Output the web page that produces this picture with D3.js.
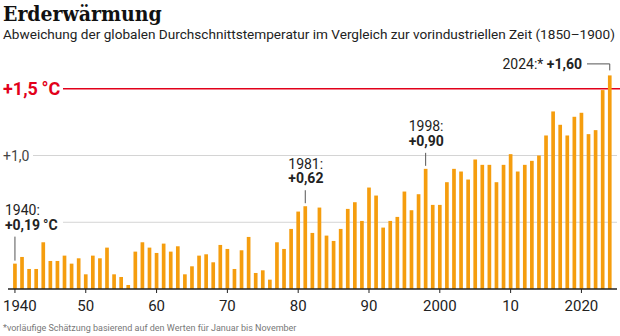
<!DOCTYPE html>
<html lang="de">
<head>
<meta charset="utf-8">
<title>Erderwärmung</title>
<script src="https://d3js.org/d3.v7.min.js"></script>
<style>
  body { margin: 0; background: #fff; }
  svg text { font-family: Roboto, "Liberation Sans", sans-serif; }
  .title { font-family: "DejaVu Serif Condensed", "DejaVu Serif", serif !important; font-weight: bold; font-size: 21px; fill: #111; }
  .subtitle { font-size: 13.6px; fill: #222; }
  .note { font-size: 9px; fill: #777; }
  .tick text { font-size: 15px; fill: #222; }
  .ann { font-size: 14px; fill: #222; }
  .ann .b { font-weight: bold; }
</style>
</head>
<body>
<script>
// Jahre und Abweichung gegenüber 1850–1900 in °C
var years = [1940,1941,1942,1943,1944,1945,1946,1947,1948,1949,
             1950,1951,1952,1953,1954,1955,1956,1957,1958,1959,
             1960,1961,1962,1963,1964,1965,1966,1967,1968,1969,
             1970,1971,1972,1973,1974,1975,1976,1977,1978,1979,
             1980,1981,1982,1983,1984,1985,1986,1987,1988,1989,
             1990,1991,1992,1993,1994,1995,1996,1997,1998,1999,
             2000,2001,2002,2003,2004,2005,2006,2007,2008,2009,
             2010,2011,2012,2013,2014,2015,2016,2017,2018,2019,
             2020,2021,2022,2023,2024];
var anomaly = [0.19,0.24,0.15,0.15,0.35,0.21,0.21,0.25,0.19,0.23,
               0.11,0.25,0.23,0.31,0.11,0.09,0.03,0.28,0.35,0.31,
               0.27,0.34,0.28,0.32,0.11,0.17,0.25,0.26,0.20,0.33,
               0.30,0.15,0.29,0.39,0.12,0.14,0.07,0.35,0.30,0.45,
               0.58,0.62,0.42,0.61,0.40,0.36,0.45,0.60,0.65,0.51,
               0.76,0.70,0.46,0.51,0.54,0.73,0.59,0.71,0.90,0.63,
               0.63,0.80,0.90,0.88,0.82,0.97,0.93,0.93,0.80,0.93,
               1.01,0.88,0.93,0.96,1.00,1.15,1.33,1.23,1.15,1.29,
               1.32,1.16,1.19,1.49,1.60];
var tickYears = [1940,1950,1960,1970,1980,1990,2000,2010,2020];
var gridValues = [0.5, 1.0];
var limit = 1.5;
var highlightYears = [1940, 1981, 1998];

var w = 620, h = 336;
var svg = d3.select("body").append("svg")
    .attr("width", w)
    .attr("height", h);

var data = years.map(function(y, i) { return {year: y, value: anomaly[i]}; });
var valueOf = function(y) { return anomaly[years.indexOf(y)]; };
var fmt = function(v) { return "+" + d3.format(".2f")(v).replace(".", ","); };

var x = d3.scaleBand()
    .domain(years)
    .range([9.7, 615])
    .padding(0.48);
var cx = function(y) { return x(y) + x.bandwidth() / 2; };

var yScale = d3.scaleLinear()
    .domain([0, 1])
    .range([289, 155.5]);

// Titel
svg.append("text").attr("class", "title")
    .attr("x", 3).attr("y", 21)
    .text("Erderwärmung");
svg.append("text").attr("class", "subtitle")
    .attr("x", 3).attr("y", 39)
    .text("Abweichung der globalen Durchschnittstemperatur im Vergleich zur vorindustriellen Zeit (1850–1900)");

// Gitterlinien
svg.selectAll(".grid")
  .data(gridValues)
  .join("line")
    .attr("class", "grid")
    .attr("x1", function(d) { return d === 1 ? 33 : 63; })
    .attr("x2", 617)
    .attr("y1", function(d) { return yScale(d); })
    .attr("y2", function(d) { return yScale(d); })
    .attr("stroke", "#d4d4d4")
    .attr("stroke-width", 1);

svg.append("text")
    .attr("x", 3).attr("y", yScale(1) + 5)
    .style("font-size", "14px").style("fill", "#444")
    .text("+1,0");

// 1,5-Grad-Grenze
svg.append("line")
    .attr("x1", 63).attr("x2", 620)
    .attr("y1", yScale(limit)).attr("y2", yScale(limit))
    .attr("stroke", "#e2001a")
    .attr("stroke-width", 1.5);
svg.append("text")
    .attr("x", 3).attr("y", yScale(limit) + 6)
    .style("font-size", "18px").style("font-weight", "bold").style("fill", "#e2001a")
    .text("+1,5\u2009°C");

// Balken
svg.selectAll(".bar")
  .data(data)
  .join("rect")
    .attr("class", "bar")
    .attr("x", function(d) { return x(d.year); })
    .attr("y", function(d) { return yScale(d.value); })
    .attr("width", x.bandwidth())
    .attr("height", function(d) { return yScale(0) - yScale(d.value); })
    .attr("fill", "#f59d0e");

// x-Achse
var xAxis = d3.axisBottom(x)
    .tickValues(tickYears)
    .tickSize(4)
    .tickPadding(7)
    .tickSizeOuter(0)
    .tickFormat(function(d) { return (d === 1940 || d === 2000 || d === 2020) ? d : String(d).slice(2); });
var gx = svg.append("g")
    .attr("transform", "translate(0," + yScale(0) + ")")
    .call(xAxis);
gx.select(".domain").remove();
gx.selectAll(".tick line").attr("stroke", "#222");
// erste Beschriftung bündig am linken Rand
gx.selectAll(".tick text")
    .filter(function(d) { return d === tickYears[0]; })
    .attr("text-anchor", "start")
    .attr("x", 3 - cx(tickYears[0]));
svg.append("line")
    .attr("x1", 8).attr("x2", 617)
    .attr("y1", yScale(0)).attr("y2", yScale(0))
    .attr("stroke", "#222").attr("stroke-width", 1.5);

// Beschriftungen einzelner Jahre
var annOffset = {1940: {dx: -10, gap: 27}, 1981: {dx: -17, gap: 16}, 1998: {dx: -17, gap: 16}};
highlightYears.forEach(function(yr) {
  var v = valueOf(yr), o = annOffset[yr];
  var top = yScale(v);
  var lineTop = top - o.gap;
  svg.append("line")
      .attr("x1", cx(yr)).attr("x2", cx(yr))
      .attr("y1", lineTop).attr("y2", top - 3)
      .attr("stroke", "#555").attr("stroke-width", 1);
  var t = svg.append("text").attr("class", "ann")
      .attr("x", cx(yr) + o.dx).attr("y", lineTop - 21.5);
  t.append("tspan").text(yr + ":");
  t.append("tspan").attr("class", "b")
      .attr("x", cx(yr) + o.dx).attr("dy", 14.5)
      .text(fmt(v) + (yr === 1940 ? "\u2009°C" : ""));
});

// 2024 (vorläufig)
var last = years[years.length - 1];
var lastTop = yScale(valueOf(last));
var t24 = svg.append("text").attr("class", "ann")
    .attr("x", 582).attr("y", lastTop - 6.5)
    .attr("text-anchor", "end");
t24.append("tspan").text(last + ":* ");
t24.append("tspan").attr("class", "b").text(fmt(valueOf(last)));
svg.append("path")
    .attr("d", "M587," + (lastTop - 11.5) + "H" + cx(last) + "V" + (lastTop - 5))
    .attr("fill", "none").attr("stroke", "#555").attr("stroke-width", 1);

// Fußnote
svg.append("text").attr("class", "note")
    .attr("x", 3).attr("y", 331)
    .text("*vorläufige Schätzung basierend auf den Werten für Januar bis November");
</script>
</body>
</html>
